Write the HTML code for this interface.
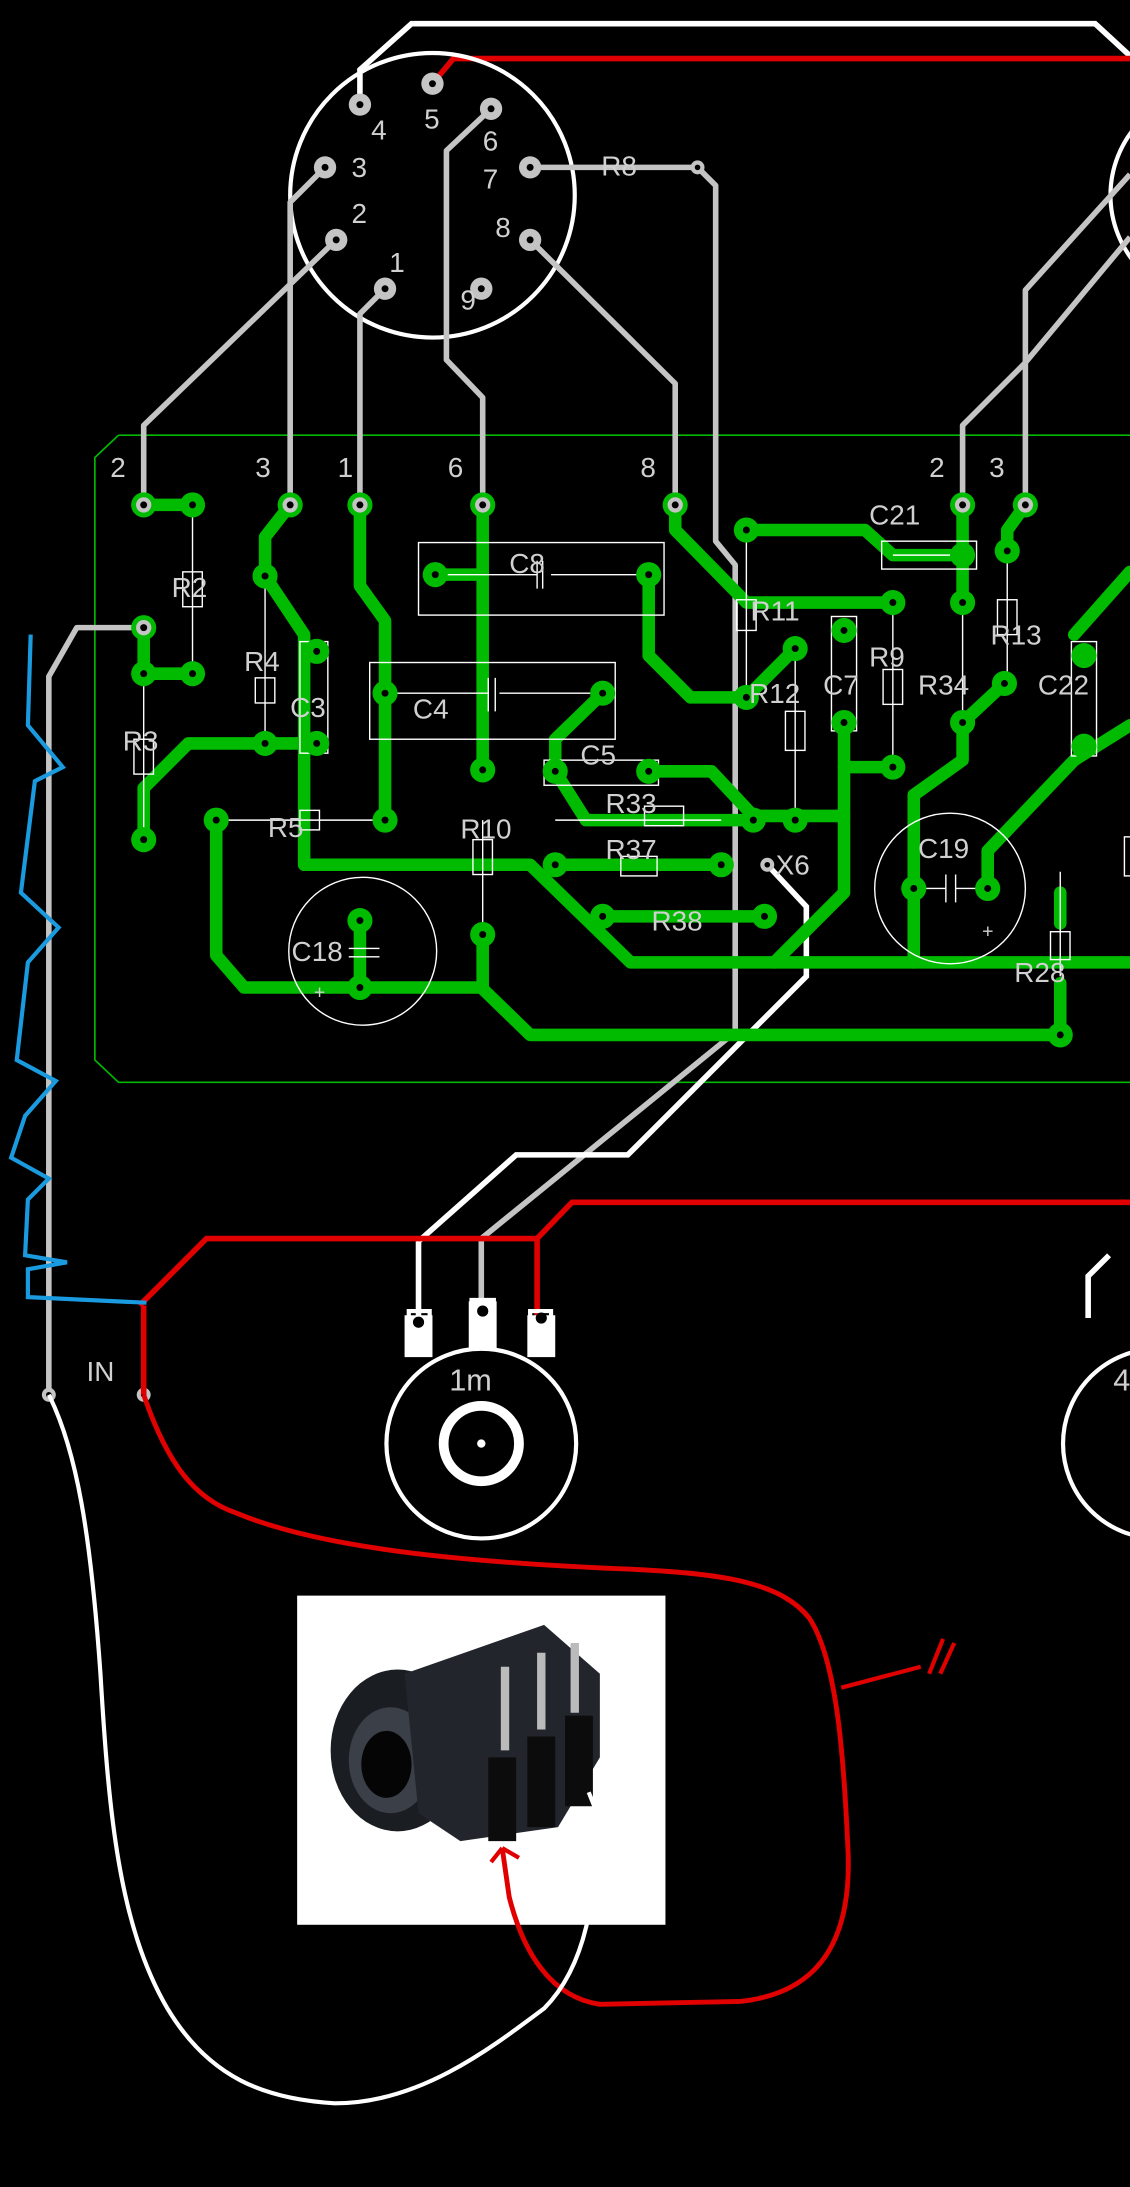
<!DOCTYPE html>
<html><head><meta charset="utf-8"><style>
html,body{margin:0;padding:0;background:#000;width:1130px;height:2187px;overflow:hidden}
svg{display:block}
text{font-family:"Liberation Sans",sans-serif;fill:#d0d0d0;font-size:20px}
</style></head><body>
<svg width="1130" height="2187" viewBox="0 0 810 1568" preserveAspectRatio="none" xmlns="http://www.w3.org/2000/svg">
<rect width="810" height="1568" fill="#000"/>
<!-- board outline -->
<path d="M85,312 L810,312 M85,312 L68,328 L68,760 L85,776 L810,776" stroke="#00b800" stroke-width="1.2" fill="none"/>
<!-- top white & red -->
<path d="M258,75 L258,50 L295,17 L785,17 L810,40" stroke="#fff" stroke-width="4" fill="none"/>
<path d="M310,60 L325,42 L810,42" stroke="#e00000" stroke-width="4" fill="none"/>
<circle cx="310" cy="140" r="102" stroke="#fff" stroke-width="3" fill="none"/>
<circle cx="872" cy="140" r="76" stroke="#fff" stroke-width="3" fill="none"/>
<!-- gray traces -->
<g stroke="#c4c4c4" stroke-width="4" fill="none" stroke-linejoin="round">
<path d="M241,172 L103,305 L103,362"/>
<path d="M233,120 L208,145 L208,362"/>
<path d="M276,207 L258,225 L258,362"/>
<path d="M352,78 L320,108 L320,258 L346,285 L346,362"/>
<path d="M380,172 L484,275 L484,362"/>
<path d="M380,120 L500,120"/>
<path d="M500,120 L513,133 L513,388 L527,405 L527,740 L345,888 L345,940"/>
<path d="M690,362 L690,305 L735,260 L810,170"/>
<path d="M735,362 L735,208 L810,125"/>
<path d="M103,450 L55,450 L35,485 L35,1000"/>
</g>
<path d="M550,620 L578,650 L578,700 L450,828 L370,828 L300,890 L300,945" stroke="#fff" stroke-width="4" fill="none"/>
<!-- green traces -->
<g stroke="#00bb00" stroke-width="9" fill="none" stroke-linejoin="round" stroke-linecap="round">
<path d="M103,362 L138,362"/><path d="M103,450 L103,483 L138,483"/>
<path d="M208,362 L190,385 L190,413 L218,455 L218,620 L380,620 L452,690 L810,690"/>
<path d="M258,362 L258,420 L276,445 L276,588"/>
<path d="M346,362 L346,552"/>
<path d="M103,602 L103,565 L135,533 L227,533"/>
<path d="M155,588 L155,685 L175,708 L345,708 L380,742 L760,742"/>
<path d="M346,670 L346,708"/>
<path d="M258,660 L258,708"/>
<path d="M312,412 L346,412"/>
<path d="M465,412 L465,470 L495,500 L535,500 L570,465"/>
<path d="M484,362 L484,380 L535,432 L640,432"/>
<path d="M535,380 L620,380 L640,398 L690,398"/>
<path d="M690,362 L690,432"/>
<path d="M398,553 L398,530 L432,497"/><path d="M398,553 L420,588 L540,588"/>
<path d="M465,553 L510,553 L540,585 L605,585 L605,518"/>
<path d="M605,550 L640,550"/>
<path d="M398,620 L517,620"/>
<path d="M432,657 L548,657"/>
<path d="M605,585 L605,640 L555,690"/>
<path d="M655,690 L655,570 L690,545 L690,518 L720,490"/>
<path d="M735,362 L722,380 L722,395"/>
<path d="M708,640 L708,610 L770,545 L810,520"/>
<path d="M770,455 L810,410"/>
<path d="M760,640 L760,662"/><path d="M760,705 L760,742"/>
</g>
<!-- components (thin white) -->
<g stroke="#fff" stroke-width="1" fill="none">
<rect x="300" y="389" width="176" height="52"/><path d="M312,412 H385 M395,412 H465 M385,402 V422 M389,402 V422"/>
<rect x="265" y="475" width="176" height="55"/><path d="M276,497 H350 M358,497 H432 M350,486 V510 M355,486 V510"/>
<path d="M138,362 V483"/><rect x="131" y="410" width="14" height="25"/>
<path d="M103,483 V602"/><rect x="96" y="530" width="14" height="25"/>
<path d="M190,413 V533"/><rect x="183" y="486" width="14" height="18"/>
<rect x="215" y="460" width="20" height="80"/>
<path d="M155,588 H276"/><rect x="215" y="581" width="14" height="14"/>
<path d="M346,588 V670"/><rect x="339" y="602" width="14" height="25"/>
<rect x="390" y="545" width="82" height="18"/>
<path d="M398,588 H517"/><rect x="462" y="578" width="28" height="14"/>
<rect x="445" y="614" width="26" height="14"/>
<path d="M535,380 V500"/><rect x="528" y="430" width="14" height="22"/>
<path d="M570,465 V588"/><rect x="563" y="510" width="14" height="28"/>
<rect x="596" y="442" width="18" height="82"/>
<path d="M640,432 V550"/><rect x="633" y="480" width="14" height="25"/>
<rect x="632" y="388" width="68" height="20"/><path d="M640,398 H690"/>
<path d="M690,432 V518"/>
<path d="M722,395 V490"/><rect x="715" y="430" width="14" height="25"/>
<rect x="768" y="460" width="18" height="82"/>
<path d="M760,625 V700"/><rect x="753" y="668" width="14" height="20"/>
<circle cx="681" cy="637" r="54"/><path d="M655,637 H678 M685,637 H708 M678,627 V647 M685,627 V647"/>
<circle cx="260" cy="682" r="53"/><path d="M250,680 H272 M250,686 H272"/>
<rect x="806" y="600" width="10" height="28"/>
</g>
<!-- pads green -->
<g fill="#00bb00">
<circle cx="103" cy="362" r="9"/><circle cx="138" cy="362" r="9"/><circle cx="103" cy="450" r="9"/><circle cx="103" cy="483" r="9"/><circle cx="138" cy="483" r="9"/>
<circle cx="208" cy="362" r="9"/><circle cx="258" cy="362" r="9"/><circle cx="346" cy="362" r="9"/><circle cx="484" cy="362" r="9"/><circle cx="690" cy="362" r="9"/><circle cx="735" cy="362" r="9"/>
<circle cx="190" cy="413" r="9"/><circle cx="227" cy="467" r="9"/><circle cx="227" cy="533" r="9"/><circle cx="190" cy="533" r="9"/><circle cx="103" cy="602" r="9"/>
<circle cx="312" cy="412" r="9"/><circle cx="465" cy="412" r="9"/><circle cx="276" cy="497" r="9"/><circle cx="432" cy="497" r="9"/>
<circle cx="155" cy="588" r="9"/><circle cx="276" cy="588" r="9"/><circle cx="346" cy="552" r="9"/><circle cx="346" cy="670" r="9"/>
<circle cx="258" cy="660" r="9"/><circle cx="258" cy="708" r="9"/><circle cx="398" cy="553" r="9"/><circle cx="465" cy="553" r="9"/>
<circle cx="398" cy="620" r="9"/><circle cx="517" cy="620" r="9"/><circle cx="432" cy="657" r="9"/><circle cx="548" cy="657" r="9"/>
<circle cx="535" cy="380" r="9"/><circle cx="640" cy="432" r="9"/><circle cx="690" cy="398" r="9"/><circle cx="690" cy="432" r="9"/>
<circle cx="535" cy="500" r="9"/><circle cx="570" cy="465" r="9"/><circle cx="570" cy="588" r="9"/><circle cx="540" cy="588" r="9"/>
<circle cx="605" cy="452" r="9"/><circle cx="605" cy="518" r="9"/><circle cx="640" cy="550" r="9"/><circle cx="690" cy="518" r="9"/><circle cx="720" cy="490" r="9"/>
<circle cx="722" cy="395" r="9"/><circle cx="655" cy="637" r="9"/><circle cx="708" cy="637" r="9"/><circle cx="760" cy="742" r="9"/><circle cx="777" cy="470" r="9"/><circle cx="777" cy="535" r="9"/>
</g>
<g fill="#000">
<circle cx="138" cy="362" r="2.5"/><circle cx="103" cy="483" r="2.5"/><circle cx="138" cy="483" r="2.5"/><circle cx="190" cy="413" r="2.5"/><circle cx="227" cy="467" r="2.5"/><circle cx="227" cy="533" r="2.5"/><circle cx="190" cy="533" r="2.5"/><circle cx="103" cy="602" r="2.5"/>
<circle cx="312" cy="412" r="2.5"/><circle cx="465" cy="412" r="2.5"/><circle cx="276" cy="497" r="2.5"/><circle cx="432" cy="497" r="2.5"/><circle cx="155" cy="588" r="2.5"/><circle cx="276" cy="588" r="2.5"/><circle cx="346" cy="552" r="2.5"/><circle cx="346" cy="670" r="2.5"/>
<circle cx="258" cy="660" r="2.5"/><circle cx="258" cy="708" r="2.5"/><circle cx="398" cy="553" r="2.5"/><circle cx="465" cy="553" r="2.5"/><circle cx="398" cy="620" r="2.5"/><circle cx="517" cy="620" r="2.5"/><circle cx="432" cy="657" r="2.5"/><circle cx="548" cy="657" r="2.5"/>
<circle cx="535" cy="380" r="2.5"/><circle cx="640" cy="432" r="2.5"/><circle cx="690" cy="432" r="2.5"/><circle cx="535" cy="500" r="2.5"/><circle cx="570" cy="465" r="2.5"/><circle cx="570" cy="588" r="2.5"/><circle cx="540" cy="588" r="2.5"/>
<circle cx="605" cy="452" r="2.5"/><circle cx="605" cy="518" r="2.5"/><circle cx="640" cy="550" r="2.5"/><circle cx="690" cy="518" r="2.5"/><circle cx="720" cy="490" r="2.5"/><circle cx="722" cy="395" r="2.5"/><circle cx="655" cy="637" r="2.5"/><circle cx="708" cy="637" r="2.5"/><circle cx="760" cy="742" r="2.5"/>
</g>
<!-- gray pads (connector + board entries) -->
<g fill="#c4c4c4">
<circle cx="258" cy="75" r="8"/><circle cx="310" cy="60" r="8"/><circle cx="352" cy="78" r="8"/><circle cx="233" cy="120" r="8"/><circle cx="380" cy="120" r="8"/><circle cx="241" cy="172" r="8"/><circle cx="380" cy="172" r="8"/><circle cx="276" cy="207" r="8"/><circle cx="345" cy="207" r="8"/>
<circle cx="103" cy="362" r="5.5"/><circle cx="208" cy="362" r="5.5"/><circle cx="258" cy="362" r="5.5"/><circle cx="346" cy="362" r="5.5"/><circle cx="484" cy="362" r="5.5"/><circle cx="690" cy="362" r="5.5"/><circle cx="735" cy="362" r="5.5"/><circle cx="103" cy="450" r="5.5"/>
<circle cx="500" cy="120" r="5"/><circle cx="550" cy="620" r="5"/><circle cx="35" cy="1000" r="5"/><circle cx="103" cy="1000" r="5"/>
</g>
<g fill="#000">
<circle cx="258" cy="75" r="2.5"/><circle cx="310" cy="60" r="2.5"/><circle cx="352" cy="78" r="2.5"/><circle cx="233" cy="120" r="2.5"/><circle cx="380" cy="120" r="2.5"/><circle cx="241" cy="172" r="2.5"/><circle cx="380" cy="172" r="2.5"/><circle cx="276" cy="207" r="2.5"/><circle cx="345" cy="207" r="2.5"/>
<circle cx="103" cy="362" r="2.5"/><circle cx="208" cy="362" r="2.5"/><circle cx="258" cy="362" r="2.5"/><circle cx="346" cy="362" r="2.5"/><circle cx="484" cy="362" r="2.5"/><circle cx="690" cy="362" r="2.5"/><circle cx="735" cy="362" r="2.5"/><circle cx="103" cy="450" r="2.5"/>
<circle cx="500" cy="120" r="2"/><circle cx="550" cy="620" r="2"/><circle cx="35" cy="1000" r="2"/><circle cx="103" cy="1000" r="2"/>
</g>
<!-- labels -->
<text x="266" y="100">4</text><text x="304" y="92">5</text><text x="346" y="108">6</text><text x="252" y="127">3</text><text x="346" y="135">7</text><text x="252" y="160">2</text><text x="355" y="170">8</text><text x="279" y="195">1</text><text x="330" y="222">9</text>
<text x="431" y="126">R8</text>
<text x="79" y="342">2</text><text x="183" y="342">3</text><text x="242" y="342">1</text><text x="321" y="342">6</text><text x="459" y="342">8</text><text x="666" y="342">2</text><text x="709" y="342">3</text>
<text x="123" y="428">R2</text><text x="175" y="481">R4</text><text x="208" y="514">C3</text><text x="88" y="538">R3</text><text x="192" y="600">R5</text>
<text x="365" y="411">C8</text><text x="296" y="515">C4</text><text x="330" y="601">R10</text><text x="416" y="548">C5</text><text x="434" y="583">R33</text><text x="434" y="616">R37</text><text x="467" y="667">R38</text>
<text x="209" y="689">C18</text><text x="225" y="716" style="font-size:14px">+</text>
<text x="538" y="445">R11</text><text x="537" y="504">R12</text><text x="590" y="498">C7</text><text x="623" y="478">R9</text><text x="658" y="498">R34</text><text x="623" y="376">C21</text>
<text x="710" y="462">R13</text><text x="744" y="498">C22</text><text x="658" y="615">C19</text><text x="704" y="672" style="font-size:14px">+</text><text x="727" y="704">R28</text>
<text x="556" y="627">X6</text><text x="62" y="990">IN</text><text x="322" y="997" style="font-size:22px">1m</text><text x="798" y="997" style="font-size:22px">4</text>
<!-- red lines -->
<path d="M100,936 L148,888 L385,888 L385,945 M385,888 L410,862 L810,862 M103,936 L103,1000" stroke="#e00000" stroke-width="4" fill="none"/>
<!-- blue squiggle -->
<path d="M22,455 L20,520 L45,550 L25,560 L15,640 L42,665 L20,690 L12,760 L40,775 L18,800 L8,830 L35,845 L20,860 L18,900 L48,905 L20,910 L20,930 L105,934" stroke="#1a9be0" stroke-width="3" fill="none"/>
<!-- pots -->
<g stroke="#fff" fill="none">
<circle cx="345" cy="1035" r="68" stroke-width="3"/>
<circle cx="345" cy="1035" r="27" stroke-width="7"/>
<circle cx="830" cy="1035" r="68" stroke-width="3"/>
<path d="M293,950 V940 H308 V960 M338,950 V932 H354 V960 M380,960 V940 H395 V960" stroke-width="3"/>
<path d="M795,900 L780,915 V945" stroke-width="4"/>
</g>
<circle cx="345" cy="1035" r="3" fill="#fff"/>
<rect x="290" y="943" width="20" height="30" fill="#fff"/><rect x="336" y="933" width="20" height="35" fill="#fff"/><rect x="378" y="943" width="20" height="30" fill="#fff"/>
<circle cx="300" cy="948" r="4" fill="#000"/><circle cx="346" cy="940" r="4" fill="#000"/><circle cx="388" cy="945" r="4" fill="#000"/>
<!-- photo -->
<rect x="213" y="1144" width="264" height="236" fill="#fff"/>
<g>
<ellipse cx="285" cy="1255" rx="48" ry="58" fill="#1a1d22"/>
<ellipse cx="280" cy="1262" rx="30" ry="38" fill="#3a3f48"/>
<ellipse cx="277" cy="1265" rx="18" ry="24" fill="#050505"/>
<path d="M290,1200 L390,1165 L430,1200 L430,1260 L400,1310 L330,1320 L300,1300 Z" fill="#22262c"/>
<path d="M350,1260 h20 v60 h-20z M378,1245 h20 v65 h-20z M405,1230 h20 v65 h-20z" fill="#0c0c0c"/>
<path d="M362,1195 v60 M388,1185 v55 M412,1178 v50" stroke="#bbb" stroke-width="6"/>
</g>
<!-- curves -->
<path d="M103,1000 C120,1050 140,1075 170,1085 C230,1110 330,1120 450,1125 C520,1128 560,1135 580,1160 C600,1190 605,1260 608,1330 C610,1400 580,1430 530,1435 L430,1437 C395,1432 375,1400 365,1360 L360,1325" stroke="#e00000" stroke-width="3.5" fill="none"/>
<path d="M603,1210 L660,1195 M666,1200 L676,1175 M674,1200 L684,1178" stroke="#e00000" stroke-width="3" fill="none"/>
<path d="M35,1000 C55,1040 65,1100 72,1200 C78,1300 85,1380 120,1440 C150,1490 190,1505 240,1508 C300,1508 350,1470 390,1440 C420,1410 428,1360 428,1300 L422,1285" stroke="#fff" stroke-width="3" fill="none"/>
<path d="M360,1325 L352,1335 M360,1325 L372,1332" stroke="#e00000" stroke-width="3"/>
</svg>
</body></html>
